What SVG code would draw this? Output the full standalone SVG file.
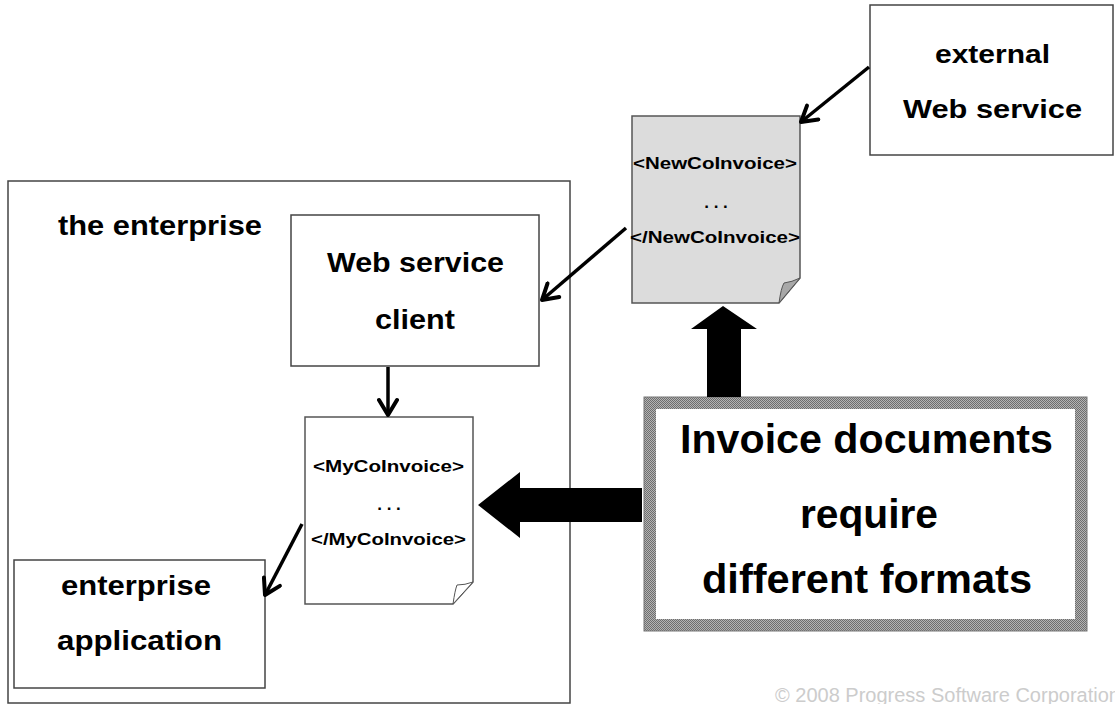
<svg xmlns="http://www.w3.org/2000/svg" width="1115" height="704" viewBox="0 0 1115 704">
  <defs>
    <style>
      .box { fill: #ffffff; stroke: #444444; stroke-width: 1.5; }
      .lbl { font-family: "Liberation Sans", Arial, sans-serif; font-weight: bold; fill: #000000; }
      .doc { font-family: "Liberation Sans", Arial, sans-serif; font-weight: bold; font-size: 17px; fill: #000000; }
      .link { fill: none; stroke: #000000; stroke-width: 3.5; }
      .block { fill: #000000; }
    </style>
    <marker id="vhead" viewBox="0 0 22 22" refX="18" refY="11" markerWidth="22" markerHeight="22" markerUnits="userSpaceOnUse" orient="auto">
      <path d="M3,2 L18,11 L3,20" fill="none" stroke="#000000" stroke-width="4" stroke-linecap="round" stroke-linejoin="round"/>
    </marker>
    <pattern id="dither" width="2" height="2" patternUnits="userSpaceOnUse">
      <rect width="2" height="2" fill="#b4b4b4"/>
      <rect width="1" height="1" fill="#6e6e6e"/>
      <rect x="1" y="1" width="1" height="1" fill="#6e6e6e"/>
    </pattern>
  </defs>

  <rect width="1115" height="704" fill="#ffffff"/>

  <!-- enterprise boundary -->
  <g id="enterprise">
    <rect class="box" x="8" y="181" width="562" height="522"/>
    <text class="lbl" x="58" y="235" font-size="28" textLength="204" lengthAdjust="spacingAndGlyphs">the enterprise</text>
  </g>

  <!-- external service -->
  <g id="external-service">
    <rect class="box" x="870" y="5" width="243" height="150"/>
    <text class="lbl" x="935" y="63" font-size="26" textLength="115" lengthAdjust="spacingAndGlyphs">external</text>
    <text class="lbl" x="903" y="118" font-size="26" textLength="179" lengthAdjust="spacingAndGlyphs">Web service</text>
  </g>

  <!-- external invoice document -->
  <g id="newco-doc">
    <path d="M632,116 L800,116 L800,278 L779,303 L632,303 Z" fill="#dcdcdc" stroke="#555555" stroke-width="1.5"/>
    <path d="M779,303 Q781,288 784,283 Q792,282 800,278 Z" fill="#a8a8a8" stroke="#555555" stroke-width="1"/>
    <text class="doc" x="633" y="169" textLength="164" lengthAdjust="spacingAndGlyphs">&lt;NewCoInvoice&gt;</text>
    <text class="doc" x="716" y="208" text-anchor="middle">.  .  .</text>
    <text class="doc" x="630" y="243" textLength="170" lengthAdjust="spacingAndGlyphs">&lt;/NewCoInvoice&gt;</text>
  </g>

  <!-- client -->
  <g id="ws-client">
    <rect class="box" x="291" y="215" width="248" height="151"/>
    <text class="lbl" x="327" y="272" font-size="27" textLength="177" lengthAdjust="spacingAndGlyphs">Web service</text>
    <text class="lbl" x="375" y="329" font-size="27" textLength="80" lengthAdjust="spacingAndGlyphs">client</text>
  </g>

  <!-- internal invoice document -->
  <g id="myco-doc">
    <path d="M305,417 L473,417 L473,582 L453,604 L305,604 Z" fill="#ffffff" stroke="#555555" stroke-width="1.5"/>
    <path d="M453,604 Q455,590 457,585 Q465,585 473,582 Z" fill="#ffffff" stroke="#555555" stroke-width="1"/>
    <text class="doc" x="313" y="472" textLength="151" lengthAdjust="spacingAndGlyphs">&lt;MyCoInvoice&gt;</text>
    <text class="doc" x="389" y="510" text-anchor="middle">.  .  .</text>
    <text class="doc" x="311" y="545" textLength="155" lengthAdjust="spacingAndGlyphs">&lt;/MyCoInvoice&gt;</text>
  </g>

  <!-- application -->
  <g id="ent-app">
    <rect class="box" x="14" y="560" width="251" height="128"/>
    <text class="lbl" x="61" y="595" font-size="27" textLength="150" lengthAdjust="spacingAndGlyphs">enterprise</text>
    <text class="lbl" x="57" y="650" font-size="27" textLength="165" lengthAdjust="spacingAndGlyphs">application</text>
  </g>

  <!-- callout -->
  <g id="callout">
    <rect x="644" y="397" width="443" height="234" fill="url(#dither)" stroke="#777777" stroke-width="1"/>
    <rect x="656" y="409" width="419" height="210" fill="#ffffff"/>
    <text class="lbl" x="680" y="453" font-size="41" textLength="373" lengthAdjust="spacingAndGlyphs">Invoice documents</text>
    <text class="lbl" x="800" y="528" font-size="41" textLength="138" lengthAdjust="spacingAndGlyphs">require</text>
    <text class="lbl" x="702" y="593" font-size="41" textLength="330" lengthAdjust="spacingAndGlyphs">different formats</text>
  </g>

  <!-- connectors -->
  <g id="connectors">
    <line class="link" x1="869" y1="67" x2="801" y2="122" marker-end="url(#vhead)"/>
    <line class="link" x1="626" y1="228" x2="542" y2="300" marker-end="url(#vhead)"/>
    <line class="link" x1="388" y1="367" x2="388" y2="415" marker-end="url(#vhead)"/>
    <line class="link" x1="302" y1="524" x2="265" y2="595" marker-end="url(#vhead)"/>
    <path class="block" d="M642,488 L520,488 L520,472 L478,505 L520,538 L520,522 L642,522 Z"/>
    <path class="block" d="M707,397 L707,329 L691,329 L723,306 L757,329 L741,329 L741,397 Z"/>
  </g>

  <text x="775" y="702" font-family="Liberation Sans, Arial, sans-serif" font-size="20" fill="#cccccc">© 2008 Progress Software Corporation</text>
</svg>
